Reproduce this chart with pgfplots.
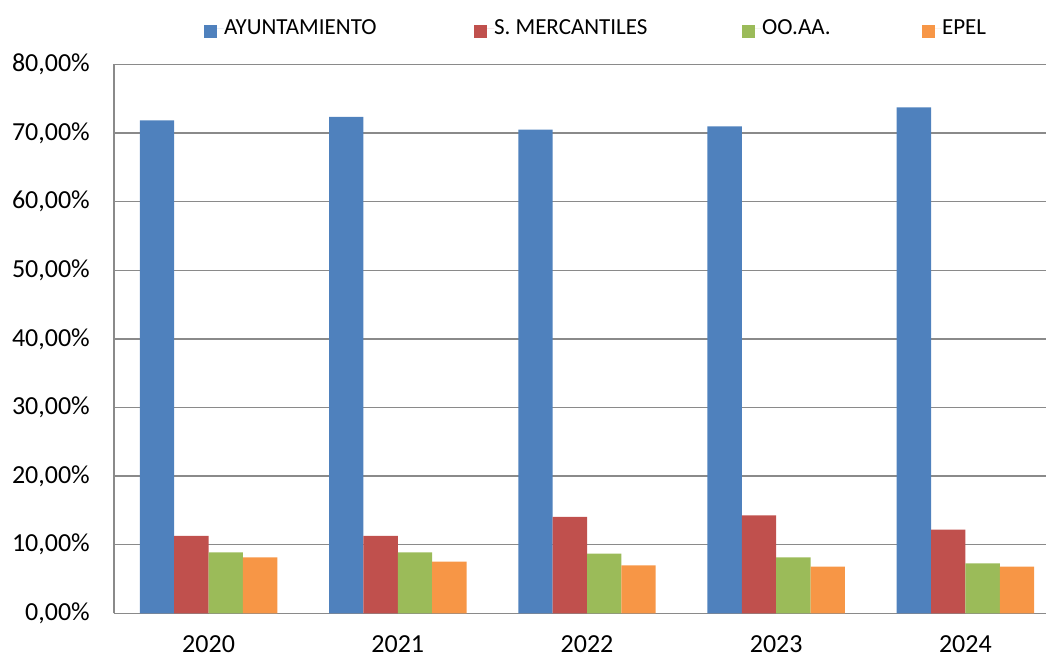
\documentclass[border=0pt]{standalone}
\usepackage{fontspec}
\setmainfont{Carlito}
\usepackage{pgfplots}
\pgfplotsset{compat=1.18}
\definecolor{cblue}{HTML}{4F81BD}
\definecolor{cred}{HTML}{C0504D}
\definecolor{cgreen}{HTML}{9BBB59}
\definecolor{corange}{HTML}{F79646}
\definecolor{cgrid}{HTML}{8A8A8A}
\begin{document}
\begin{tikzpicture}
\useasboundingbox (-114pt,-44.3pt) rectangle (932pt,613.3pt);
\begin{axis}[
  at={(0pt,0pt)}, anchor=south west,
  scale only axis,
  width=932pt, height=548.8pt,
  ybar,
  bar width=0.1816,
  xmin=-0.5, xmax=4.426,
  ymin=0, ymax=80,
  ytick={0,10,...,80},
  xtick={0,1,2,3,4},
  xticklabels={2020,2021,2022,2023,2024},
  /pgf/number format/assume math mode=true,
  yticklabel={\pgfmathprintnumber[fixed,fixed zerofill,precision=2,use comma]{\tick}\%},
  ticklabel style={font=\fontsize{26}{30}\selectfont},
  yticklabel style={anchor=east, inner sep=0pt, xshift=-24pt},
  xticklabel style={anchor=base, inner sep=0pt, yshift=-39.5pt},
  major tick length=0pt,
  axis x line*=bottom, axis y line*=left,
  axis line style={cgrid, line width=1.5pt},
  ymajorgrids,
  major grid style={cgrid, line width=1.5pt},
  legend columns=4,
  legend cell align=left,
  legend style={at={(axis description cs:0.0966,1.0649)}, anchor=west,
    draw=none, fill=none, inner sep=0pt, outer sep=0pt,
    nodes={inner sep=0pt},
    /tikz/every even column/.append style={column sep=0pt},
    font=\fontsize{23}{27}\selectfont},
  legend image code/.code={\fill[#1] (0pt,-9.5pt) rectangle (12.5pt,3pt); \path (0pt,0pt) -- (20pt,0pt);},
]
\addplot[fill=cblue, draw=none, bar shift=-0.2724] coordinates {(0,71.87) (1,72.35) (2,70.50) (3,70.99) (4,73.76)};
\addplot[fill=cred, draw=none, bar shift=-0.0908] coordinates {(0,11.27) (1,11.27) (2,14.04) (3,14.29) (4,12.20)};
\addplot[fill=cgreen, draw=none, bar shift=0.0908] coordinates {(0,8.89) (1,8.89) (2,8.70) (3,8.16) (4,7.29)};
\addplot[fill=corange, draw=none, bar shift=0.2724] coordinates {(0,8.16) (1,7.53) (2,7.00) (3,6.80) (4,6.80)};
\legend{\makebox[250pt][l]{AYUNTAMIENTO},\makebox[248pt][l]{S. MERCANTILES},\makebox[160pt][l]{OO.AA.},EPEL}
\end{axis}
\end{tikzpicture}
\end{document}
